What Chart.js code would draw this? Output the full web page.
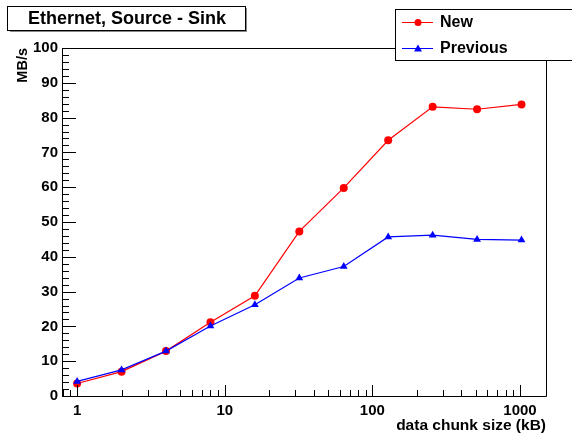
<!DOCTYPE html>
<html>
<head>
<meta charset="utf-8">
<script src="https://cdn.jsdelivr.net/npm/chart.js@4.4.1/dist/chart.umd.min.js"></script>
<style>
html,body{margin:0;padding:0;background:#fff;}
#wrap{width:572px;height:435px;position:relative;}
</style>
</head>
<body>
<div id="wrap"><canvas id="c" width="572" height="435"></canvas></div>
<script>
const chartTitle = "Ethernet, Source - Sink";
const xAxisTitle = "data chunk size (kB)";
const yAxisTitle = "MB/s";
const chunkSizes = [1, 2, 4, 8, 16, 32, 64, 128, 256, 512, 1024];
const newRates = [3.6, 7.0, 12.9, 21.2, 28.8, 47.3, 59.8, 73.5, 83.1, 82.4, 83.8];
const prevRates = [4.2, 7.5, 12.9, 20.1, 26.2, 33.9, 37.2, 45.7, 46.2, 45.0, 44.8];
const seriesNames = ["New", "Previous"];
const xTickLabels = [1, 10, 100, 1000];
const yTickLabels = [0, 10, 20, 30, 40, 50, 60, 70, 80, 90, 100];

const FONT = '"Liberation Sans", Arial, Helvetica, sans-serif';

const rootPlugin = {
  id: 'rootStyle',
  afterDraw(chart) {
    const ctx = chart.ctx;
    const a = chart.chartArea;
    const xs = chart.scales.x, ys = chart.scales.y;
    ctx.save();
    ctx.strokeStyle = '#000';
    ctx.lineWidth = 1;
    // frame
    ctx.beginPath();
    ctx.moveTo(Math.round(a.left)+0.5, Math.round(a.bottom)+0.5);
    ctx.lineTo(Math.round(a.left)+0.5, Math.round(a.top)+0.5);
    ctx.lineTo(Math.round(a.right)+0.5, Math.round(a.top)+0.5);
    ctx.lineTo(Math.round(a.right)+0.5, Math.round(a.bottom)+0.5);
    ctx.lineTo(Math.round(a.left)+0.5, Math.round(a.bottom)+0.5);
    ctx.stroke();
    // y ticks
    ctx.beginPath();
    for (let v = 0; v <= 100; v += 2) {
      const py = Math.round(ys.getPixelForValue(v)) + 0.5;
      const len = (v % 10 === 0) ? 14 : 7;
      ctx.moveTo(a.left, py);
      ctx.lineTo(a.left + len, py);
    }
    // x ticks
    for (let dec = 0.1; dec <= 1000; dec *= 10) {
      for (let m = 1; m <= 9; m++) {
        const v = dec * m;
        if (v < xs.min || v > xs.max) continue;
        const px = Math.round(xs.getPixelForValue(v)) + 0.5;
        const len = (m === 1) ? 11 : 6;
        ctx.moveTo(px, a.bottom);
        ctx.lineTo(px, a.bottom - len);
      }
    }
    ctx.stroke();
    // axis titles
    ctx.fillStyle = '#000';
    ctx.font = 'bold 15.5px ' + FONT;
    ctx.textAlign = 'right';
    ctx.textBaseline = 'alphabetic';
    ctx.fillText(xAxisTitle, a.right, 430);
    ctx.save();
    ctx.translate(27, 48);
    ctx.rotate(-Math.PI / 2);
    ctx.font = 'bold 14.5px ' + FONT;
    ctx.textAlign = 'right';
    ctx.fillText(yAxisTitle, 0, 0);
    ctx.restore();
    // title box
    ctx.fillStyle = '#888';
    ctx.fillRect(10, 8, 237, 24);
    ctx.fillStyle = '#fff';
    ctx.fillRect(8, 6, 237, 24);
    ctx.strokeRect(7.5, 6.5, 238, 24);
    ctx.fillStyle = '#000';
    ctx.font = 'bold 18px ' + FONT;
    ctx.textAlign = 'center';
    ctx.textBaseline = 'middle';
    ctx.fillText(chartTitle, 127, 19);
    // legend box
    ctx.fillStyle = '#fff';
    ctx.fillRect(395, 9, 190, 52);
    ctx.strokeRect(395.5, 9.5, 190, 51);
    const ds = chart.data.datasets;
    const rows = [22, 48];
    for (let i = 0; i < 2; i++) {
      const d = ds[i];
      const y = rows[i] + 0.5;
      ctx.strokeStyle = d.borderColor;
      ctx.lineWidth = 1;
      ctx.beginPath();
      ctx.moveTo(402, y); ctx.lineTo(433, y); ctx.stroke();
      ctx.fillStyle = d.borderColor;
      ctx.beginPath();
      if (d.pointStyle === 'triangle') {
        ctx.moveTo(418, y - 4); ctx.lineTo(422, y + 3); ctx.lineTo(414, y + 3); ctx.closePath();
      } else {
        ctx.arc(418, y, 3.5, 0, Math.PI * 2);
      }
      ctx.fill();
      ctx.fillStyle = '#000';
      ctx.font = 'bold 16px ' + FONT;
      ctx.textAlign = 'left';
      ctx.textBaseline = 'middle';
      ctx.fillText(d.label, 440, rows[i] + 1);
    }
    ctx.restore();
  }
};

new Chart(document.getElementById('c'), {
  type: 'line',
  data: {
    datasets: [
      {
        label: seriesNames[0],
        data: chunkSizes.map((x, i) => ({x: x, y: newRates[i]})),
        borderColor: '#ff0000',
        backgroundColor: '#ff0000',
        borderWidth: 1.2,
        pointStyle: 'circle',
        pointRadius: 4,
        pointBorderWidth: 0,
        order: 1,
        tension: 0
      },
      {
        label: seriesNames[1],
        data: chunkSizes.map((x, i) => ({x: x, y: prevRates[i]})),
        borderColor: '#0000ff',
        backgroundColor: '#0000ff',
        borderWidth: 1.2,
        pointStyle: 'triangle',
        pointRadius: 4.5,
        pointBorderWidth: 0,
        order: 0,
        tension: 0
      }
    ]
  },
  options: {
    responsive: false,
    animation: false,
    devicePixelRatio: 1,
    layout: { padding: { top: 48, right: 26, left: 0, bottom: 0 } },
    plugins: { legend: { display: false }, title: { display: false }, tooltip: { enabled: false } },
    scales: {
      x: {
        type: 'logarithmic',
        min: 0.79,
        max: 1500,
        offset: false,
        grid: { display: false, drawTicks: false },
        border: { display: false },
        afterBuildTicks: (s) => { s.ticks = xTickLabels.map(v => ({value: v})); },
        afterFit: (s) => { s.height = 39; },
        ticks: {
          autoSkip: false, maxRotation: 0, minRotation: 0, padding: 6,
          color: '#000',
          font: { family: FONT, size: 15, weight: 'bold' },
          callback: (v) => String(v)
        }
      },
      y: {
        type: 'linear',
        min: 0,
        max: 100,
        grid: { display: false, drawTicks: false },
        border: { display: false },
        afterBuildTicks: (s) => { s.ticks = yTickLabels.map(v => ({value: v})); },
        afterFit: (s) => { s.width = 62; },
        ticks: {
          padding: 4,
          color: '#000',
          font: { family: FONT, size: 15, weight: 'bold' },
          callback: (v) => String(v)
        }
      }
    }
  },
  plugins: [rootPlugin]
});
</script>
</body>
</html>
